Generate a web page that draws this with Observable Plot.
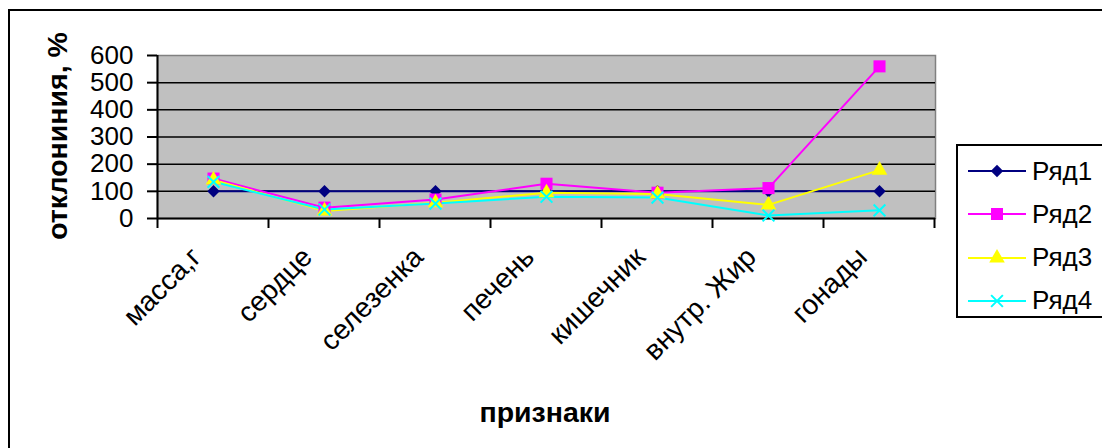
<!DOCTYPE html>
<html>
<head>
<meta charset="utf-8">
<script src="https://cdn.jsdelivr.net/npm/d3@7"></script>
<script src="https://cdn.jsdelivr.net/npm/@observablehq/plot@0.6"></script>
<style>
  html, body { margin: 0; padding: 0; width: 1102px; height: 448px; overflow: hidden; background: #fff; font-family: "Liberation Sans", Arial, sans-serif; }
  #wrap { position: relative; width: 1102px; height: 448px; }
  #outer { position: absolute; left: 8px; top: 9px; width: 2000px; height: 2000px; border: 2px solid #000; box-sizing: border-box; }
  #chart { position: absolute; left: 0; top: 0; }
  #ytitle { position: absolute; left: 57px; top: 136px; transform: translate(-50%, -50%) rotate(-90deg); font-weight: bold; font-size: 28.5px; white-space: nowrap; }
  #xtitle { position: absolute; left: 545px; top: 412px; transform: translate(-50%, -50%); font-weight: bold; font-size: 28.5px; white-space: nowrap; }
  #legend { position: absolute; left: 956px; top: 144px; width: 300px; height: 174px; border: 2px solid #000; box-sizing: border-box; background: #fff; }
  .row { position: absolute; left: 0; height: 40px; display: flex; align-items: center; }
  .row span { font-size: 26px; margin-left: 6px; }
</style>
</head>
<body>
<div id="wrap">
  <div id="outer"></div>
  <div id="chart"></div>
  <div id="ytitle">отклониния, %</div>
  <div id="xtitle">признаки</div>
  <div id="legend"></div>
</div>
<script>
const categories = ["масса,г", "сердце", "селезенка", "печень", "кишечник", "внутр. Жир", "гонады"];
const seriesNames = ["Ряд1", "Ряд2", "Ряд3", "Ряд4"];
const ryad1 = [100, 100, 100, 100, 100, 100, 100];
const ryad2 = [147, 40, 70, 128, 95, 112, 560];
const ryad3 = [142, 28, 58, 95, 90, 50, 178];
const ryad4 = [135, 33, 55, 80, 77, 11, 30];
const yTicks = [0, 100, 200, 300, 400, 500, 600];
const gridValues = [100, 200, 300, 400, 500];
const colors = ["#000080", "#FF00FF", "#FFFF00", "#00FFFF"];
const symbols = ["diamond2", "square", "triangle", "times"];
const radii = [5.6, 6.8, 5.8, 5.4];

const seriesValues = [ryad1, ryad2, ryad3, ryad4];
const rows = [];
seriesValues.forEach((vals, s) => vals.forEach((v, i) => rows.push({series: seriesNames[s], cat: categories[i], value: v})));

const axisDecor = (index, scales) => {
  const xs = categories.map(c => scales.x(c));
  const step = xs[1] - xs[0];
  const y0 = scales.y(0), yTop = scales.y(600);
  const g = d3.create("svg:g");
  const left = xs[0] - step / 2;
  g.append("line").attr("x1", left).attr("x2", left).attr("y1", yTop).attr("y2", y0).attr("stroke", "#000").attr("stroke-width", 2);
  for (let i = 0; i <= categories.length; i++) {
    const x = left + i * step;
    g.append("line").attr("x1", x).attr("x2", x).attr("y1", y0).attr("y2", y0 + 10).attr("stroke", "#000").attr("stroke-width", 2);
  }
  return g.node();
};

const marks = [
  Plot.frame({fill: "#C0C0C0", stroke: "#808080", strokeWidth: 1.5}),
  Plot.ruleY(gridValues, {stroke: "#000", strokeWidth: 1.5}),
  Plot.ruleY([0], {stroke: "#000", strokeWidth: 2}),
  Plot.axisY({ticks: yTicks, tickSize: 10, tickPadding: 14, fontSize: 26, label: null, strokeWidth: 2}),
  Plot.axisX({tickRotate: -45, tickSize: 0, tickPadding: 34, dx: -17, fontSize: 28, label: null}),
  axisDecor
];
seriesNames.forEach((name, s) => {
  const data = rows.filter(d => d.series === name);
  marks.push(Plot.line(data, {x: "cat", y: "value", stroke: colors[s], strokeWidth: 2}));
});
seriesNames.forEach((name, s) => {
  const data = rows.filter(d => d.series === name);
  if (symbols[s] === "times") {
    marks.push(Plot.dot(data, {x: "cat", y: "value", symbol: symbols[s], r: radii[s], stroke: colors[s], strokeWidth: 2}));
  } else {
    marks.push(Plot.dot(data, {x: "cat", y: "value", symbol: symbols[s], r: radii[s], fill: colors[s], stroke: "none"}));
  }
});

const chart = Plot.plot({
  width: 1102,
  height: 448,
  marginLeft: 157,
  marginRight: 167,
  marginTop: 55,
  marginBottom: 230,
  style: {fontFamily: "Liberation Sans, Arial, sans-serif", color: "#000", background: "transparent", overflow: "visible"},
  x: {type: "point", domain: categories, padding: 0.5, label: null},
  y: {domain: [0, 600], label: null},
  marks
});
document.getElementById("chart").append(chart);

const legend = d3.select("#legend");
seriesNames.forEach((name, s) => {
  const row = legend.append("div").attr("class", "row").style("top", (5 + s * 43.3) + "px").style("left", "10px");
  const svg = row.append("svg").attr("width", 58).attr("height", 40);
  svg.append("line").attr("x1", 0).attr("x2", 58).attr("y1", 20).attr("y2", 20).attr("stroke", colors[s]).attr("stroke-width", 2);
  const symMap = {diamond2: d3.symbolDiamond2, square: d3.symbolSquare, triangle: d3.symbolTriangle, times: d3.symbolTimes};
  const size = Math.PI * radii[s] * radii[s];
  const p = svg.append("path").attr("d", d3.symbol(symMap[symbols[s]], size)()).attr("transform", "translate(29,20)");
  if (symbols[s] === "times") p.attr("fill", "none").attr("stroke", colors[s]).attr("stroke-width", 2);
  else p.attr("fill", colors[s]);
  row.append("span").text(name);
});
</script>
</body>
</html>
